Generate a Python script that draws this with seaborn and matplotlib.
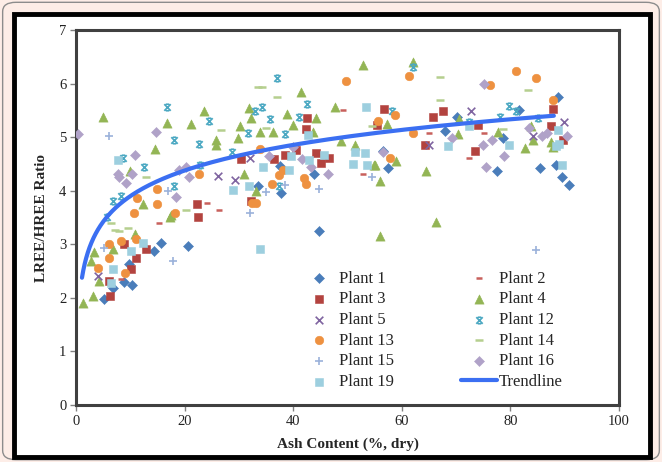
import numpy as np
import pandas as pd
import seaborn as sns
import matplotlib.pyplot as plt
from matplotlib.path import Path
from matplotlib.patches import Rectangle, FancyBboxPatch

# values (ash content %, LREE/HREE ratio)
p1_x = [5.1, 6.9, 8.9, 10.4, 9.7, 14.4, 15.7, 20.6, 33.6, 37.6, 37.8, 43.9, 44.8, 56.5, 57.4, 68.0, 70.1, 77.5, 78.6, 81.5, 85.5, 88.4, 88.7, 89.5, 90.7]
p1_y = [1.97, 2.18, 2.30, 2.24, 2.64, 2.87, 3.02, 2.96, 4.08, 4.46, 3.95, 4.32, 3.24, 4.75, 4.42, 5.12, 5.37, 4.36, 4.98, 5.51, 4.42, 4.48, 5.75, 4.26, 4.10]
p2_x = [8.3, 15.2, 24.1, 26.4, 49.2, 52.8, 65.1, 72.3, 75.2]
p2_y = [2.35, 3.39, 3.78, 3.64, 5.51, 4.31, 5.07, 4.62, 5.08]
p3_x = [6.3, 6.1, 10.1, 11.0, 12.8, 8.9, 22.4, 22.2, 30.3, 32.2, 42.5, 42.4, 56.8, 55.4, 65.7, 64.3, 36.5, 40.5, 44.2, 46.6, 45.1, 38.4, 67.6, 73.5, 74.0, 87.8, 87.5, 89.6]
p3_y = [2.03, 2.31, 2.54, 2.75, 2.92, 3.00, 3.51, 3.76, 4.59, 3.80, 5.35, 5.15, 5.53, 5.23, 5.38, 4.85, 4.59, 4.76, 4.71, 4.62, 4.52, 4.67, 5.48, 4.75, 5.23, 5.53, 5.20, 4.95]
p4_x = [1.2, 3.2, 4.2, 2.8, 3.4, 6.9, 10.9, 17.3, 4.9, 16.7, 23.6, 21.2, 14.5, 25.8, 25.7, 10.0, 12.3, 17.5, 31.0, 30.2, 32.2, 31.9, 29.9, 33.1,
        52.8, 62.1, 41.4, 47.7, 38.8, 44.2, 39.9, 33.8, 36.3, 43.6, 48.8, 51.4, 57.3, 54.8, 58.9, 55.9, 64.5, 55.1,
        70.5, 70.3, 77.7, 82.6, 84.1, 87.5, 87.8, 83.8, 56.0, 66.3]
p4_y = [1.90, 2.03, 2.31, 2.68, 2.85, 2.91, 3.20, 3.51, 5.38, 5.27, 5.48, 5.24, 4.77, 4.95, 4.85, 4.37, 3.75, 3.54, 4.31, 5.20, 5.35, 5.55, 4.98, 4.00,
        6.35, 6.41, 5.85, 5.57, 5.44, 5.35, 5.23, 5.10, 5.10, 5.10, 4.93, 4.85, 5.24, 4.48, 4.56, 4.19, 4.37, 4.48,
        5.33, 5.06, 5.10, 4.79, 4.95, 4.91, 4.82, 5.20, 3.15, 3.41]
p5_x = [4.0, 26.1, 29.2, 32.0, 65.1, 72.7, 84.1, 89.9]
p5_y = [2.40, 4.28, 4.20, 4.62, 4.85, 5.48, 5.02, 5.29]
p12_x = [16.7, 24.5, 18.0, 22.7, 8.6, 12.5, 18.0, 8.2, 6.9, 22.8, 28.7, 31.6, 33.0, 5.8,
         37.0, 34.3, 35.7, 42.5, 41.1, 38.5, 58.2, 62.0, 37.4, 79.7, 81.0, 78.1, 72.3, 85.0]
p12_y = [5.56, 5.31, 4.95, 4.87, 4.61, 4.44, 4.09, 3.91, 3.81, 4.48, 4.73, 5.07, 5.48, 3.51,
         6.10, 5.56, 5.33, 5.62, 5.37, 5.06, 5.48, 6.31, 4.08, 5.58, 5.49, 5.37, 5.29, 5.35]
p13_x = [4.0, 6.0, 9.1, 6.0, 8.3, 11.0, 10.6, 14.9, 15.0, 11.2, 18.2, 22.7, 32.5,
         49.7, 61.4, 33.8, 55.6, 58.8, 62.0, 57.9, 37.4, 36.1, 42.0, 42.4, 38.1, 33.1,
         81.0, 84.8, 76.2, 87.8]
p13_y = [2.55, 2.74, 2.46, 3.00, 3.06, 3.10, 3.59, 3.76, 4.04, 3.86, 3.58, 4.32, 3.78,
         6.05, 6.14, 4.77, 5.31, 5.41, 5.08, 4.62, 4.29, 4.13, 4.23, 4.13, 4.39, 3.78,
         6.23, 6.10, 5.97, 5.69]
p14_x = [26.7, 12.9, 20.3, 33.6, 6.4, 7.1, 8.0, 9.5, 34.3, 37.1, 35.0, 54.6, 67.0, 67.0, 83.2, 78.6]
p14_y = [5.13, 4.26, 3.64, 5.94, 3.39, 3.27, 3.25, 3.30, 5.94, 5.75, 5.17, 5.20, 6.13, 5.70, 5.88, 5.15]
p15_x = [6.1, 16.9, 32.0, 5.2, 17.9, 35.0, 38.4, 44.8, 54.6, 84.7]
p15_y = [5.02, 4.00, 3.59, 2.94, 2.69, 3.98, 4.11, 4.04, 4.26, 2.89]
p16_x = [0.3, 14.7, 10.9, 7.7, 7.9, 9.2, 10.4, 18.4, 19.0, 20.9, 20.3,
         35.6, 39.9, 41.7, 43.3, 46.5, 56.5, 75.2, 69.2, 74.9, 76.7, 78.9, 75.5, 83.5, 85.9, 90.5, 86.7]
p16_y = [5.06, 5.09, 4.67, 4.32, 4.25, 4.15, 4.31, 3.89, 4.39, 4.26, 4.45,
         4.65, 4.82, 4.60, 4.45, 4.32, 4.73, 5.99, 4.98, 4.85, 4.95, 4.65, 4.45, 5.17, 5.02, 5.02, 5.07]
p19_x = [6.4, 6.9, 10.1, 12.4, 33.9, 7.7, 28.9, 31.9, 34.4, 39.3, 39.6, 43.0, 45.7, 42.7, 53.4, 51.4, 53.3, 51.1, 53.6,
         68.5, 72.3, 79.8, 88.7, 89.0, 88.4, 89.5]
p19_y = [2.27, 2.54, 2.87, 3.02, 2.92, 4.57, 4.01, 4.09, 4.45, 4.39, 4.65, 4.57, 4.67, 5.04, 5.56, 4.73, 4.71, 4.49, 4.48,
         4.83, 5.20, 4.86, 5.13, 4.88, 4.83, 4.48]

# logarithmic trendline y = a + b*ln(x)
trend_a, trend_b = 2.31, 0.69
trend_x_range = (1.1, 88.0)

# Excel-like "star" marker: an x with short caps
star = Path([(-1, -1), (1, 1), (-1, 1), (1, -1), (-0.55, 1), (0.55, 1), (-0.55, -1), (0.55, -1)],
            [Path.MOVETO, Path.LINETO] * 4)

series = [
    ("Plant 1", p1_x, p1_y, "D", "#4A7DBA", 26, True),
    ("Plant 2", p2_x, p2_y, "_", "#C8605C", 14, False),
    ("Plant 3", p3_x, p3_y, "s", "#B3433F", 36, True),
    ("Plant 4", p4_x, p4_y, "^", "#93B555", 44, True),
    ("Plant 5", p5_x, p5_y, "x", "#7F64A0", 30, False),
    ("Plant 12", p12_x, p12_y, star, "#4BA8C2", 22, False),
    ("Plant 13", p13_x, p13_y, "o", "#EE9140", 38, True),
    ("Plant 14", p14_x, p14_y, "_", "#B5CF8E", 34, False),
    ("Plant 15", p15_x, p15_y, "+", "#9BB2DA", 30, False),
    ("Plant 16", p16_x, p16_y, "D", "#B0A2C8", 26, True),
    ("Plant 19", p19_x, p19_y, "s", "#9DCFDF", 40, True),
]

sns.set_style("white")
plt.rcParams["font.family"] = ["Liberation Serif", "DejaVu Serif"]

fig = plt.figure(figsize=(6.62, 4.62), dpi=100)
fig.patch.set_facecolor("#FDEDE7")
fig.patches.append(FancyBboxPatch((0.004, 0.005), 0.992, 0.99, boxstyle="round,pad=0,rounding_size=0.02",
                                  transform=fig.transFigure, facecolor="#FDEDE7", edgecolor="#8c8c8c",
                                  linewidth=1, zorder=-3))
fig.patches.append(Rectangle((14 / 662, 5 / 462), 636 / 662, 443 / 462, transform=fig.transFigure,
                             facecolor="white", edgecolor="black", linewidth=3.5, zorder=-2))

ax = fig.add_axes([76 / 662, 1 - 405 / 462, 543 / 662, 375 / 462])
ax.set_facecolor("white")

for name, xs, ys, mk, col, size, filled in series:
    if filled:
        sns.scatterplot(x=xs, y=ys, marker=mk, s=size, color=col, edgecolor=col, linewidth=0.4,
                        label=name, ax=ax, zorder=3)
    else:
        sns.scatterplot(x=xs, y=ys, marker=mk, s=size, color=col, edgecolor=col,
                        linewidth=1.8 if mk == "_" else 1.2, label=name, ax=ax, zorder=3)

tx = np.geomspace(trend_x_range[0], trend_x_range[1], 200)
trend = pd.DataFrame({"x": tx, "y": trend_a + trend_b * np.log(tx)})
sns.lineplot(data=trend, x="x", y="y", color="#3B6FF2", linewidth=3, label="Trendline", ax=ax, zorder=4)

ax.set_xlim(0, 100)
ax.set_ylim(0, 7)
ax.set_xticks(range(0, 101, 20))
ax.set_yticks(range(0, 8))
for sp in ax.spines.values():
    sp.set_color("#404040")
    sp.set_linewidth(2.2)
ax.tick_params(axis="both", which="both", direction="out", length=4, width=1, color="#808080",
               labelsize=10.5, labelcolor="#222222", pad=3, bottom=True, left=True)
ax.set_xlabel("Ash Content (%, dry)", fontsize=11, fontweight="bold", labelpad=7)
ax.set_ylabel("LREE/HREE Ratio", fontsize=11, fontweight="bold", labelpad=8)

handles, labels = ax.get_legend_handles_labels()
order = ["Plant 1", "Plant 3", "Plant 5", "Plant 13", "Plant 15", "Plant 19",
         "Plant 2", "Plant 4", "Plant 12", "Plant 14", "Plant 16", "Trendline"]
hmap = dict(zip(labels, handles))
ax.legend([hmap[k] for k in order], order, ncol=2, loc="upper left", bbox_to_anchor=(0.414, 0.358),
          frameon=False, fontsize=12, handlelength=2.2, handletextpad=0.1, columnspacing=4.0,
          labelspacing=0.28, borderpad=0, borderaxespad=0)

fig.savefig("out.png", dpi=100, facecolor=fig.get_facecolor())
